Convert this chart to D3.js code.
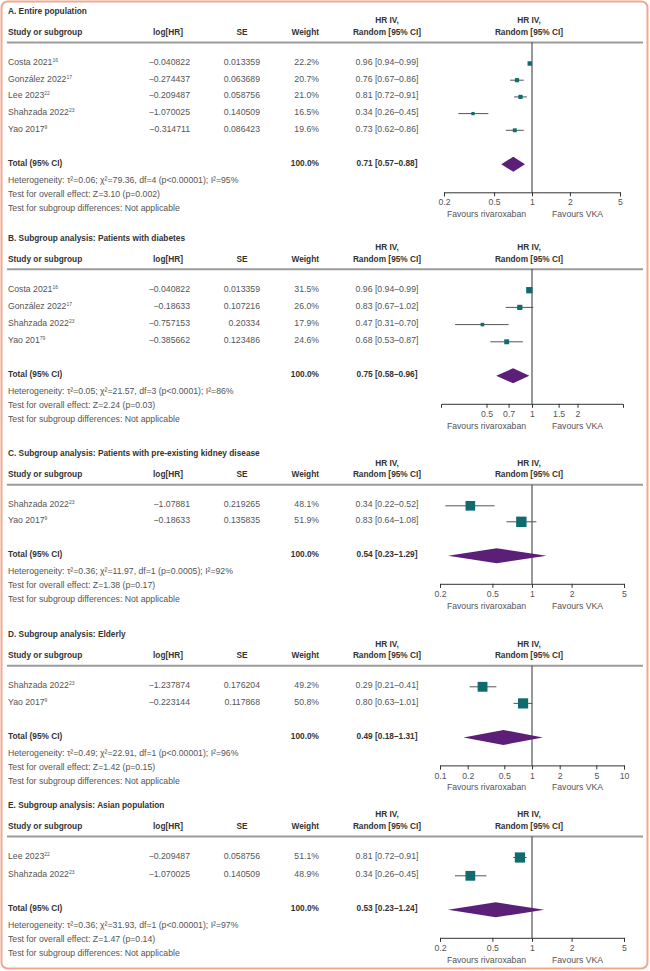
<!DOCTYPE html>
<html><head><meta charset="utf-8">
<script src="https://cdn.jsdelivr.net/npm/d3@7"></script>
<style>
body{margin:0;background:#fff}
svg{display:block}
text{font-family:"Liberation Sans",Arial,sans-serif;font-size:8.7px;fill:#555}
.b{font-weight:bold;fill:#333;font-size:8.3px}
</style>
</head><body><svg id="c" width="650" height="971"></svg>
<script>
// ---------- DATA ----------
const panelTitles = [
  "A. Entire population",
  "B. Subgroup analysis: Patients with diabetes",
  "C. Subgroup analysis: Patients with pre-existing kidney disease",
  "D. Subgroup analysis: Elderly",
  "E. Subgroup analysis: Asian population"
];
const studyNames = [
  ["Costa 2021","González 2022","Lee 2023","Shahzada 2022","Yao 2017"],
  ["Costa 2021","González 2022","Shahzada 2022","Yao 201"],
  ["Shahzada 2022","Yao 2017"],
  ["Shahzada 2022","Yao 2017"],
  ["Lee 2023","Shahzada 2022"]
];
const studyRefs = [
  ["16","17","22","23","9"],
  ["16","17","23","79"],
  ["23","9"],
  ["23","9"],
  ["22","23"]
];
const logHR = [
  ["−0.040822","−0.274437","−0.209487","−1.070025","−0.314711"],
  ["−0.040822","−0.18633","−0.757153","−0.385662"],
  ["−1.07881","−0.18633"],
  ["−1.237874","−0.223144"],
  ["−0.209487","−1.070025"]
];
const seVals = [
  ["0.013359","0.063689","0.058756","0.140509","0.086423"],
  ["0.013359","0.107216","0.20334","0.123486"],
  ["0.219265","0.135835"],
  ["0.176204","0.117868"],
  ["0.058756","0.140509"]
];
const weights = [[22.2,20.7,21.0,16.5,19.6],[31.5,26.0,17.9,24.6],[48.1,51.9],[49.2,50.8],[51.1,48.9]];
const hrVals  = [[0.96,0.76,0.81,0.34,0.73],[0.96,0.83,0.47,0.68],[0.34,0.83],[0.29,0.80],[0.81,0.34]];
const hrLow   = [[0.94,0.67,0.72,0.26,0.62],[0.94,0.67,0.31,0.53],[0.22,0.64],[0.21,0.63],[0.72,0.26]];
const hrHigh  = [[0.99,0.86,0.91,0.45,0.86],[0.99,1.02,0.70,0.87],[0.52,1.08],[0.41,1.01],[0.91,0.45]];
const totalHR   = [0.71,0.75,0.54,0.49,0.53];
const totalLow  = [0.57,0.58,0.23,0.18,0.23];
const totalHigh = [0.88,0.96,1.29,1.31,1.24];
const heterogeneity = [
  "τ²=0.06; χ²=79.36, df=4 (p<0.00001); I²=95%",
  "τ²=0.05; χ²=21.57, df=3 (p<0.0001); I²=86%",
  "τ²=0.36; χ²=11.97, df=1 (p=0.0005); I²=92%",
  "τ²=0.49; χ²=22.91, df=1 (p<0.00001); I²=96%",
  "τ²=0.36; χ²=31.93, df=1 (p<0.00001); I²=97%"
];
const overallEffect = ["Z=3.10 (p=0.002)","Z=2.24 (p=0.03)","Z=1.38 (p=0.17)","Z=1.42 (p=0.15)","Z=1.47 (p=0.14)"];
const axisTicks = [[0.2,0.5,1,2,5],[0.5,0.7,1,1.5,2],[0.2,0.5,1,2,5],[0.1,0.2,0.5,1,2,5,10],[0.2,0.5,1,2,5]];
const axisDomains = [[0.2,5],[0.25,4],[0.2,5],[0.1,10],[0.2,5]];

// ---------- LAYOUT ----------
const titleY = [11, 237.7, 453.3, 634.3, 805];
const rowStep = [16.7, 17.2, 16, 16.6, 18.3];
const halfWidth = [88, 91, 92, 92, 92];
const X1 = 532;
const SQ = "#0f6b6d", DIA = "#5b1f78";
const fmt = d3.format(".2f");

const svg = d3.select("#c");
svg.append("rect").attr("x",1.5).attr("y",1.5).attr("width",646).attr("height",967)
  .attr("rx",6).attr("fill","#fff").attr("stroke","#f2a78d").attr("stroke-width",2);

function txt(g, x, y, s, anchor, cls){
  return g.append("text").attr("x",x).attr("y",y).attr("dy","0.35em")
    .attr("text-anchor",anchor||"start").attr("class",cls||null).text(s);
}

panelTitles.forEach((title, p) => {
  const g = svg.append("g");
  const t = titleY[p];
  txt(g, 8, t, title, "start", "b");
  const hy = t + 21;
  txt(g, 8, hy, "Study or subgroup", "start", "b");
  txt(g, 168, hy, "log[HR]", "middle", "b");
  txt(g, 242, hy, "SE", "middle", "b");
  txt(g, 319, hy, "Weight", "end", "b");
  [387, 529].forEach(cx => {
    txt(g, cx, t + 9.5, "HR IV,", "middle", "b");
    txt(g, cx, hy, "Random [95% CI]", "middle", "b");
  });
  const lineY = t + 31.5;
  g.append("line").attr("x1",7).attr("x2",643).attr("y1",lineY).attr("y2",lineY)
    .attr("stroke","#9b9b9b").attr("stroke-width",2);

  const n = studyNames[p].length;
  const y = d3.scaleLinear().domain([0,1]).range([t + 51, t + 51 + rowStep[p]]);
  const totY = y(n - 1) + 34;
  const axY = totY + 29.5;
  const x = d3.scaleLog().domain(axisDomains[p]).range([X1 - halfWidth[p], X1 + halfWidth[p]]);

  // reference line at 1
  g.append("line").attr("x1",x(1)).attr("x2",x(1)).attr("y1",lineY).attr("y2",axY)
    .attr("stroke","#333").attr("stroke-width",1);

  studyNames[p].forEach((name, i) => {
    const yy = y(i);
    const tn = txt(g, 8, yy, name);
    tn.append("tspan").attr("dy","-3").style("font-size","5px").text(studyRefs[p][i]);
    txt(g, 190, yy, logHR[p][i], "end");
    txt(g, 260, yy, seVals[p][i], "end");
    txt(g, 319, yy, d3.format(".1f")(weights[p][i]) + "%", "end");
    txt(g, 387, yy, `${fmt(hrVals[p][i])} [${fmt(hrLow[p][i])}–${fmt(hrHigh[p][i])}]`, "middle");
    const my = yy + 1.5;
    g.append("line").attr("x1",x(hrLow[p][i])).attr("x2",x(hrHigh[p][i]))
      .attr("y1",my).attr("y2",my).attr("stroke","#555").attr("stroke-width",1);
    const s = weights[p][i] * 0.2;
    g.append("rect").attr("x",x(hrVals[p][i]) - s/2).attr("y",my - s/2)
      .attr("width",s).attr("height",s).attr("fill",SQ);
  });

  // total
  txt(g, 8, totY, "Total (95% CI)", "start", "b");
  txt(g, 319, totY, "100.0%", "end", "b");
  txt(g, 387, totY, `${fmt(totalHR[p])} [${fmt(totalLow[p])}–${fmt(totalHigh[p])}]`, "middle", "b");
  const dy = totY + 1.5, dh = 7.5;
  g.append("path").attr("d",
    `M${x(totalLow[p])},${dy}L${x(totalHR[p])},${dy-dh}L${x(totalHigh[p])},${dy}L${x(totalHR[p])},${dy+dh}Z`)
    .attr("fill",DIA);

  const hetY = totY + 17;
  txt(g, 8, hetY, "Heterogeneity: " + heterogeneity[p]);
  txt(g, 8, hetY + 14, "Test for overall effect: " + overallEffect[p]);
  txt(g, 8, hetY + 28, "Test for subgroup differences: Not applicable");

  // axis
  const ax = g.append("g").attr("transform",`translate(0,${axY})`)
    .call(d3.axisBottom(x).tickValues(axisTicks[p]).tickFormat(d => String(d)).tickSizeOuter(0).tickSize(4).tickPadding(3));
  ax.select(".domain").attr("stroke","#333");
  ax.selectAll(".tick line").attr("stroke","#333");
  ax.selectAll(".tick text").attr("fill","#555").style("font-size","8.7px").style("font-family","'Liberation Sans',Arial,sans-serif");
  txt(g, X1 - 45.5, axY + 22, "Favours rivaroxaban", "middle");
  txt(g, X1 + 45.5, axY + 22, "Favours VKA", "middle");
});
</script>
</body></html>
